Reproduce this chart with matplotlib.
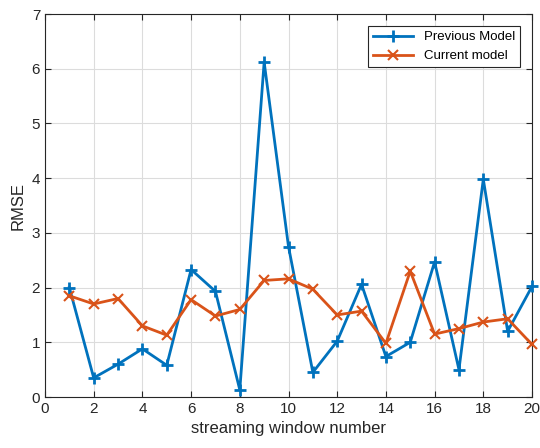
import matplotlib
matplotlib.use("Agg")
import matplotlib.pyplot as plt

plt.rcParams['font.family'] = ['Liberation Sans', 'DejaVu Sans']

windows = list(range(1, 21))
previous_model = [2.0, 0.35, 0.6, 0.88, 0.58, 2.33, 1.93, 0.13, 6.12, 2.75,
                  0.45, 1.02, 2.06, 0.74, 1.0, 2.47, 0.5, 3.98, 1.2, 2.02]
current_model = [1.85, 1.7, 1.8, 1.3, 1.13, 1.78, 1.48, 1.6, 2.13, 2.16,
                 1.97, 1.5, 1.57, 0.98, 2.3, 1.15, 1.25, 1.37, 1.43, 0.96]

fig = plt.figure(figsize=(5.4, 4.48), dpi=100)
ax = fig.add_axes([45 / 540, 1 - 397 / 448, (532 - 45) / 540, (397 - 14) / 448])

ax.plot(windows, previous_model, color='#0072BD', linewidth=2, marker='+',
        markersize=8, markeredgewidth=2, label='Previous Model', clip_on=False, zorder=3)
ax.plot(windows, current_model, color='#D95319', linewidth=2, marker='x',
        markersize=7, markeredgewidth=1.5, label='Current model', clip_on=False, zorder=3)

ax.set_xlim(0, 20)
ax.set_ylim(0, 7)
ax.set_xticks(range(0, 21, 2))
ax.set_yticks(range(0, 8))
ax.grid(True, color='#dcdcdc', linewidth=0.8)
ax.set_axisbelow(True)
ax.tick_params(direction='in', top=True, right=True, labelsize=11,
               colors='#262626', length=4)
for s in ax.spines.values():
    s.set_color('#262626')
    s.set_linewidth(0.8)

ax.set_xlabel('streaming window number', fontsize=12, color='#262626')
ax.set_ylabel('RMSE', fontsize=12, color='#262626')

leg = ax.legend(loc='upper right', fontsize=9.5, fancybox=False, framealpha=1,
                edgecolor='#262626', borderaxespad=0.9, handlelength=3)
leg.get_frame().set_linewidth(0.8)

fig.savefig('out.png', dpi=100)
